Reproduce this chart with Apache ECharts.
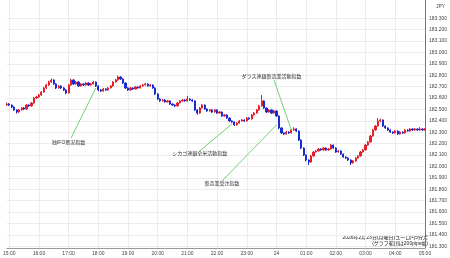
<!DOCTYPE html>
<html><head><meta charset="utf-8">
<script src="https://cdn.jsdelivr.net/npm/echarts@6/dist/echarts.min.js"></script>
<style>html,body{margin:0;padding:0;background:#fff}#c{width:450px;height:258px}</style>
</head><body><div id="c"></div>
<script>
// 5-minute candles, 14:55 -> 05:00
const startMinutes = 14 * 60 + 55;
const candleCount = 170;
const categories = [];
for (let k = 0; k < candleCount; k++) {
  const m = (startMinutes + k * 5) % 1440;
  categories.push(String(Math.floor(m / 60)).padStart(2, '0') + ':' + String(m % 60).padStart(2, '0'));
}

const openPrices = [
182.540,182.548,182.539,182.522,182.496,182.478,182.496,182.513,182.504,182.539,
182.531,182.557,182.601,182.610,182.627,182.653,182.689,182.715,182.741,182.759,
182.724,182.689,182.706,182.689,182.671,182.645,182.715,182.759,182.724,182.741,
182.706,182.724,182.715,182.732,182.715,182.724,182.741,182.706,182.671,182.662,
182.680,182.671,182.689,182.706,182.741,182.759,182.785,182.768,182.732,182.689,
182.671,182.689,182.680,182.697,182.689,182.706,182.715,182.724,182.706,182.715,
182.689,182.636,182.592,182.575,182.583,182.566,182.575,182.548,182.539,182.531,
182.557,182.575,182.583,182.575,182.592,182.583,182.575,182.496,182.469,182.513,
182.539,182.504,182.487,182.496,182.478,182.496,182.469,182.478,182.443,182.452,
182.425,182.399,182.390,182.364,182.381,182.399,182.408,182.399,182.425,182.417,
182.452,182.469,182.496,182.531,182.575,182.513,182.478,182.496,182.469,182.487,
182.443,182.338,182.294,182.285,182.302,182.294,182.320,182.329,182.311,182.232,
182.162,182.101,182.057,182.039,182.092,182.127,182.136,182.153,182.145,182.162,
182.145,182.153,182.188,182.162,182.127,182.136,182.109,182.083,182.074,182.057,
182.031,182.048,182.074,182.092,182.127,182.145,182.188,182.215,182.267,182.320,
182.355,182.399,182.408,182.355,182.338,182.320,182.302,182.294,182.311,182.285,
182.302,182.294,182.320,182.311,182.329,182.320,182.329,182.320,182.329,182.320
];
const closePrices = [
182.548,182.539,182.522,182.496,182.478,182.496,182.513,182.504,182.539,182.531,
182.557,182.601,182.610,182.627,182.653,182.689,182.715,182.741,182.759,182.724,
182.689,182.706,182.689,182.671,182.645,182.715,182.759,182.724,182.741,182.706,
182.724,182.715,182.732,182.715,182.724,182.741,182.706,182.671,182.662,182.680,
182.671,182.689,182.706,182.741,182.759,182.785,182.768,182.732,182.689,182.671,
182.689,182.680,182.697,182.689,182.706,182.715,182.724,182.706,182.715,182.689,
182.636,182.592,182.575,182.583,182.566,182.575,182.548,182.539,182.531,182.557,
182.575,182.583,182.575,182.592,182.583,182.575,182.496,182.469,182.513,182.539,
182.504,182.487,182.496,182.478,182.496,182.469,182.478,182.443,182.452,182.425,
182.399,182.390,182.364,182.381,182.399,182.408,182.399,182.425,182.417,182.452,
182.469,182.496,182.531,182.575,182.513,182.478,182.496,182.469,182.487,182.443,
182.338,182.294,182.285,182.302,182.294,182.320,182.329,182.311,182.232,182.162,
182.101,182.057,182.039,182.092,182.127,182.136,182.153,182.145,182.162,182.145,
182.153,182.188,182.162,182.127,182.136,182.109,182.083,182.074,182.057,182.031,
182.048,182.074,182.092,182.127,182.145,182.188,182.215,182.267,182.320,182.355,
182.399,182.408,182.355,182.338,182.320,182.302,182.294,182.311,182.285,182.302,
182.294,182.320,182.311,182.329,182.320,182.329,182.320,182.329,182.320,182.329
];
const lowPrices = [
182.532,182.530,182.512,182.488,182.465,182.470,182.490,182.497,182.500,182.524,
182.525,182.550,182.592,182.602,182.620,182.647,182.681,182.708,182.735,182.716,
182.680,182.682,182.680,182.662,182.634,182.640,182.708,182.715,182.717,182.698,
182.700,182.708,182.710,182.706,182.709,182.719,182.698,182.660,182.654,182.657,
182.664,182.666,182.684,182.700,182.735,182.752,182.760,182.725,182.680,182.662,
182.665,182.672,182.675,182.682,182.684,182.700,182.710,182.700,182.700,182.682,
182.628,182.585,182.567,182.570,182.560,182.561,182.541,182.532,182.520,182.526,
182.552,182.570,182.568,182.570,182.576,182.568,182.488,182.455,182.462,182.508,
182.497,182.480,182.482,182.470,182.473,182.462,182.463,182.436,182.438,182.418,
182.392,182.383,182.356,182.358,182.376,182.394,182.392,182.394,182.410,182.412,
182.447,182.464,182.490,182.525,182.505,182.470,182.473,182.462,182.464,182.435,
182.328,182.285,182.276,182.280,182.286,182.289,182.314,182.303,182.224,182.152,
182.092,182.045,182.013,182.033,182.087,182.121,182.131,182.138,182.140,182.138,
182.139,182.148,182.155,182.120,182.121,182.101,182.076,182.066,182.049,182.013,
182.026,182.043,182.069,182.087,182.121,182.140,182.182,182.210,182.262,182.314,
182.350,182.390,182.347,182.330,182.312,182.295,182.286,182.289,182.278,182.280,
182.287,182.289,182.304,182.306,182.313,182.315,182.313,182.315,182.313,182.315
];
const highPrices = [
182.560,182.556,182.545,182.528,182.502,182.505,182.520,182.522,182.548,182.546,
182.566,182.610,182.620,182.636,182.662,182.698,182.726,182.752,182.772,182.766,
182.730,182.715,182.712,182.696,182.678,182.724,182.770,182.764,182.750,182.748,
182.732,182.730,182.740,182.738,182.733,182.752,182.746,182.712,182.678,182.688,
182.686,182.697,182.714,182.749,182.768,182.797,182.792,182.774,182.738,182.695,
182.697,182.694,182.705,182.703,182.714,182.724,182.733,182.730,182.722,182.720,
182.695,182.642,182.598,182.592,182.590,182.584,182.580,182.553,182.545,182.565,
182.583,182.592,182.590,182.620,182.598,182.590,182.580,182.502,182.522,182.548,
182.544,182.510,182.504,182.502,182.504,182.501,182.486,182.483,182.460,182.457,
182.430,182.405,182.395,182.390,182.407,182.416,182.414,182.433,182.431,182.460,
182.477,182.504,182.540,182.627,182.580,182.518,182.504,182.501,182.495,182.492,
182.448,182.344,182.300,182.311,182.308,182.329,182.345,182.335,182.316,182.238,
182.168,182.106,182.063,182.100,182.136,182.145,182.162,182.160,182.171,182.167,
182.162,182.197,182.193,182.167,182.144,182.141,182.114,182.089,182.080,182.062,
182.057,182.082,182.100,182.135,182.153,182.197,182.224,182.276,182.329,182.364,
182.425,182.420,182.412,182.360,182.343,182.326,182.309,182.319,182.316,182.310,
182.308,182.328,182.326,182.337,182.335,182.337,182.334,182.345,182.334,182.337
];

const yTickValues = [181.3,181.4,181.5,181.6,181.7,181.8,181.9,182.0,182.1,182.2,182.3,
  182.4,182.5,182.6,182.7,182.8,182.9,183.0,183.1,183.2,183.3];

// annotations: text anchor [categoryIndex, price], line start, line end
const noteTexts = ['独IFO景況指数', 'シカゴ連銀全米活動指数', '製造業受注指数', 'ダラス連銀製造業活動指数'];
const noteTextPos = [[25, 182.206], [78, 182.109], [87, 181.847], [107, 182.785]];
const noteLineStart = [[26, 182.250], [78, 182.136], [87, 181.873], [108, 182.759]];
const noteLineEnd = [[36, 182.689], [91, 182.373], [109, 182.364], [115, 182.320]];

const FONT = "'Liberation Sans', 'Noto Sans CJK JP', sans-serif";
const candleData = closePrices.map((c, k) => [openPrices[k], c, lowPrices[k], highPrices[k]]);

const chart = echarts.init(document.getElementById('c'), null, { renderer: 'canvas' });
chart.setOption({
  animation: false,
  backgroundColor: '#ffffff',
  grid: { left: 0, right: 21, top: 0, bottom: 10 },
  xAxis: {
    type: 'category',
    data: categories,
    boundaryGap: false,
    axisLine: { lineStyle: { color: '#9a9a9a', width: 1 } },
    axisTick: { show: false },
    axisLabel: {
      fontSize: 5, color: '#444', fontFamily: FONT, margin: 3,
      alignMinLabel: 'center', alignMaxLabel: 'center',
      hideOverlap: false,
      interval: (idx, val) => val.endsWith(':00'),
      formatter: v => (v === '00:00' ? '24' : v)
    },
    splitLine: { show: true, interval: (idx, val) => val.endsWith(':00'), lineStyle: { color: '#ececec', width: 1 } }
  },
  yAxis: {
    type: 'value',
    position: 'right',
    min: 181.285,
    max: 183.4605,
    scale: true,
    axisLine: { show: true, lineStyle: { color: '#777', width: 1 } },
    axisTick: { show: false, customValues: yTickValues },
    axisLabel: {
      fontSize: 5, color: '#444', fontFamily: FONT, margin: 4,
      customValues: yTickValues,
      formatter: v => v.toFixed(3)
    },
    splitLine: { show: true, lineStyle: { color: '#ececec', width: 1 } }
  },
  graphic: [
    { type: 'text', left: 436, top: 4, style: { text: 'JPY', fontSize: 5, fill: '#444', fontFamily: FONT } },
    { type: 'text', right: 22, top: 235, style: { text: '2026年2月23日(月曜日)ユーロ円5分足', fontSize: 5, fill: '#222', fontFamily: FONT, backgroundColor: '#fff' } },
    { type: 'text', right: 22, top: 241, style: { text: '(グラフ範囲は200pips幅)', fontSize: 5, fill: '#222', fontFamily: FONT, backgroundColor: '#fff' } }
  ],
  series: [{
    type: 'candlestick',
    data: candleData,
    barWidth: 1.7,
    itemStyle: {
      color: '#e3202c', color0: '#1a2bd0',
      borderColor: '#e3202c', borderColor0: '#1a2bd0', borderWidth: 1
    },
    markLine: {
      silent: true,
      symbol: ['none', 'none'],
      label: { show: false },
      lineStyle: { color: '#74d074', width: 1, type: 'solid' },
      data: noteLineStart.map((s, k) => [{ coord: s }, { coord: noteLineEnd[k] }])
    },
    markPoint: {
      silent: true,
      symbol: 'circle',
      symbolSize: 0,
      label: { show: true, position: 'inside', formatter: '{b}', fontSize: 5, color: '#333', fontFamily: FONT },
      data: noteTexts.map((t, k) => ({ name: t, coord: noteTextPos[k] }))
    }
  }]
});
</script>
</body></html>
